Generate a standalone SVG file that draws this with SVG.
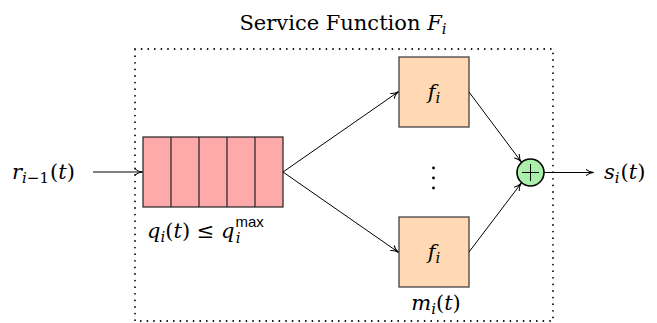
<svg xmlns="http://www.w3.org/2000/svg" width="657" height="323" viewBox="0 0 657 323">
<defs>
<marker id="arr" viewBox="0 0 10 10" refX="9" refY="5" markerWidth="8" markerHeight="8" orient="auto" markerUnits="userSpaceOnUse">
<path d="M0,1 Q5,5 10,5 Q5,5 0,9" fill="none" stroke="#000" stroke-width="1.3"/>
</marker>
</defs>
<style>
text{font-family:'DejaVu Serif','Liberation Serif',serif;font-size:21px;fill:#000}
.m{font-style:italic}
.sub{font-size:15px}
.s{font-family:'Liberation Sans','DejaVu Sans',sans-serif;font-size:15px;font-style:normal}
.c{stroke:#000;stroke-width:1;fill:none;marker-end:url(#arr)}
.box{fill:#FFD9B3;stroke:#333;stroke-width:1.2}
</style>
<rect width="657" height="323" fill="#fff"/>
<g id="title"><text x="343" y="30" text-anchor="middle">Service Function <tspan class="m">F</tspan><tspan class="m sub" dy="4">i</tspan></text></g>
<g id="frame"><rect x="135" y="49" width="418" height="272" fill="none" stroke="#000" stroke-width="1.8" stroke-dasharray="0 6.6" stroke-linecap="round"/></g>
<g id="input"><text x="12" y="179"><tspan class="m">r</tspan><tspan class="m sub" dy="4">i</tspan><tspan class="sub">−1</tspan><tspan dy="-4" dx="1">(</tspan><tspan class="m">t</tspan>)</text></g>
<g id="queue">
<rect x="143" y="137" width="140" height="70" fill="#FFAAAA" stroke="#222" stroke-width="1.2"/>
<path d="M171,137V207M199,137V207M227,137V207M255,137V207" stroke="#222" stroke-width="1.2"/>
<text x="147" y="238"><tspan class="m">q</tspan><tspan class="m sub" dy="4">i</tspan><tspan dy="-4">(</tspan><tspan class="m">t</tspan>) ≤ <tspan class="m">q</tspan><tspan class="s" dx="1" dy="-11">max</tspan><tspan class="m sub" dx="-28" dy="16">i</tspan></text>
</g>
<g id="f1"><rect class="box" x="399" y="57" width="70" height="70"/><text x="434" y="99" text-anchor="middle"><tspan class="m">f</tspan><tspan class="m sub" dy="4">i</tspan></text></g>
<g id="f2"><rect class="box" x="399" y="217" width="70" height="70"/><text x="434" y="259" text-anchor="middle"><tspan class="m">f</tspan><tspan class="m sub" dy="4">i</tspan></text>
<text x="436" y="310" text-anchor="middle"><tspan class="m">m</tspan><tspan class="m sub" dy="4">i</tspan><tspan dy="-4">(</tspan><tspan class="m">t</tspan>)</text></g>
<g id="vdots"><circle cx="433.5" cy="168" r="1.4"/><circle cx="433.5" cy="178" r="1.4"/><circle cx="433.5" cy="188" r="1.4"/></g>
<g id="sum"><circle cx="530.5" cy="172.5" r="13.5" fill="#AAF0AA" stroke="#000" stroke-width="1.6"/><path d="M522,172.5H539M530.5,164V181" stroke="#000" stroke-width="1"/></g>
<g id="output"><text x="604" y="179"><tspan class="m">s</tspan><tspan class="m sub" dy="4">i</tspan><tspan dy="-4" dx="1">(</tspan><tspan class="m">t</tspan>)</text></g>
<g id="connectors">
<line class="c" x1="93" y1="172" x2="142" y2="172"/>
<line class="c" x1="283" y1="172" x2="398" y2="92"/>
<line class="c" x1="283" y1="172" x2="398" y2="252"/>
<line class="c" x1="469" y1="92" x2="521" y2="161.5"/>
<line class="c" x1="469" y1="252" x2="521" y2="183.5"/>
<line class="c" x1="544" y1="172.5" x2="593" y2="172.5"/>
</g>
</svg>
